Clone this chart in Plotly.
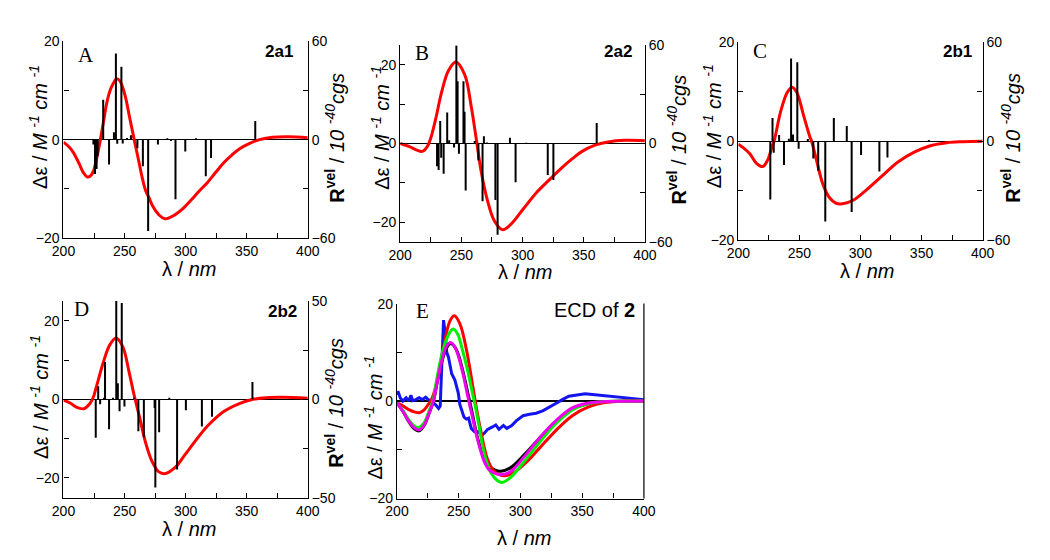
import plotly.graph_objects as go

W, H = 1050, 560

# ---------------- Panel A : 2a1 ----------------
A_curve_wl = [200, 205, 208.5, 213, 216, 219.5, 222, 224.5, 227, 230.2, 233, 235.2, 238, 240.5, 243.5, 246,
              248.5, 251, 253.9, 257.9, 261.9, 264.5, 267.3, 270, 273, 277.8, 283.2, 291.2, 298, 304.5, 311,
              317.9, 324.5, 331.2, 338, 344.5, 352, 360.5, 371.2, 384.5, 400]
A_curve_de = [-0.5, -1.6, -2.8, -5.0, -6.6, -7.6, -7.4, -6.4, -4.0, 0, 4.0, 7.2, 9.9, 11.3, 12.4, 12.0,
              10.6, 8.4, 4.8, 0, -4.7, -7.8, -10.4, -11.8, -13.5, -15.2, -16.1, -15.3, -14.0, -12.3, -10.5,
              -8.7, -6.7, -4.7, -3.1, -1.8, -0.8, 0, 0.5, 0.6, 0.4]
A_stick_wl = [224.5, 225.8, 227.1, 228.0, 232.5, 237.3, 241.3, 242.9, 244.0, 247.4, 248.5, 252.0, 255.2,
              260.5, 265.0, 269.3, 277.3, 285.0, 288.0, 291.7, 299.7, 308.5, 316.5, 320.8, 357.0]
A_stick_R = [-3.0, -21.0, -18.0, -10.0, 24.3, -15.2, 4.5, 52.6, -2.5, 44.5, -2.4, 1.0, 2.6,
             -5.3, -16.2, -55.7, -3.0, 0.8, -0.8, -36.4, -7.3, 0.8, -22.4, -11.2, 11.4]

# ---------------- Panel B : 2a2 ----------------
B_curve_wl = [200, 207.5, 213, 218.1, 222.1, 224.8, 228.8, 234.1, 239.4, 245.5, 252.7, 258, 262, 266, 271.4,
              276.7, 283.4, 290, 300.7, 311.3, 322, 332, 341, 348.6, 359.2, 369.9, 383.2, 400]
B_curve_de = [0, -0.8, -1.6, -2.0, -0.8, 1.2, 6.0, 13.4, 18.5, 20.7, 17.5, 9.5, 1.5, -6.8, -14.6,
              -19.5, -21.9, -20.7, -16.6, -12.5, -9.2, -6.2, -3.8, -2.0, -0.4, 0.4, 0.8, 0.7]
B_stick_wl = [230.1, 231.4, 232.7, 233.5, 235.5, 238.4, 240.0, 244.0, 245.9, 246.9, 248.0, 251.7, 252.6,
              253.5, 260.9, 263.9, 267.3, 268.4, 270.8, 277.8, 279.6, 289.7, 294.3, 303.0, 320.6, 325.2, 360.6]
B_stick_R = [-13.8, -16.2, 13.8, -8.7, -18.5, 18.9, 2.0, -2.4, 59.8, 38.0, -6.3, 38.0, 19.4,
             -28.6, 1.6, -10.3, -35.3, 4.5, 0.6, -34.4, -55.7, 3.5, -23.6, 0.5, -19.2, -22.2, 12.5]

# ---------------- Panel C : 2b1 ----------------
C_curve_wl = [200, 204, 209.4, 214.7, 220, 224, 228, 229.3, 234.7, 240, 244, 248, 253.3, 258.7, 260, 264,
              269.3, 274.7, 280, 285.3, 293.3, 304, 317.3, 330.7, 344, 357.3, 370.7, 384, 400]
C_curve_de = [-0.6, -1.3, -2.5, -4.4, -5.1, -3.8, -0.8, 0, 6.0, 9.8, 10.9, 9.8, 5.3, 0.8, 0, -3.8,
              -8.7, -11.4, -12.5, -12.6, -12.0, -10.0, -7.1, -4.2, -2.2, -0.9, -0.3, -0.1, 0]
C_stick_wl = [226.2, 228.0, 229.0, 233.4, 237.4, 241.4, 243.2, 244.8, 248.3, 249.4, 256.9, 261.4,
              265.4, 271.2, 278.2, 288.8, 292.8, 300.5, 315.5, 322.1, 356.0]
C_stick_R = [-35.3, 14.1, -7.0, 3.7, -14.3, 1.5, 50.0, 4.0, 47.8, -4.5, 1.4, -10.4,
             -17.8, -48.5, 14.1, 9.2, -42.8, -8.4, -18.3, -9.9, 0.7]

# ---------------- Panel D : 2b2 ----------------
D_curve_wl = [200, 205.8, 210, 216.5, 221.8, 224.5, 227.2, 232.5, 237.8, 243.1, 248.5, 253.8, 257.8,
              261.8, 267.2, 272.5, 277.8, 283.2, 291.2, 299.2, 307.2, 317.9, 331.2, 344.5, 355.2, 365.9,
              379.2, 400]
D_curve_de = [-0.2, -1.0, -1.9, -2.4, -1.0, 0.6, 3.5, 9.3, 13.8, 15.6, 13.4, 6.8, 1.1,
              -3.9, -11.0, -15.8, -18.4, -18.9, -17.4, -14.2, -10.9, -6.8, -3.1, -1.0, 0, 0.4,
              0.5, 0.3]
D_stick_wl = [226.4, 228.4, 230.0, 233.2, 234.0, 237.3, 240.5, 243.2, 244.5, 245.9, 247.7, 249.9, 257.9,
              261.3, 265.8, 274.6, 275.2, 278.3, 286.6, 293.0, 300.2, 313.3, 321.6, 354.7]
D_stick_R = [-19.6, 6.6, -2.5, 0.8, 19.0, -15.2, 0.8, 50.0, 8.2, -6.1, 49.0, -3.6, 0.8,
             -16.3, -19.3, -4.4, -44.8, -16.8, 0.8, -35.7, -5.6, -13.8, -8.8, 8.8]

# ---------------- Panel E : ECD of 2 ----------------
E_exp_wl = [200, 200.8, 202.6, 204.7, 207.4, 209.5, 211.3, 212.6, 215.3, 217.9, 220.5, 223.2, 225.3, 227.9,
            231.1, 233.7, 235, 236.4, 237.7, 239, 240.3, 241.7, 244.3, 246.9, 249.6, 250.9, 252.8, 254.3,
            256.2, 258, 260.2, 262.8, 266, 268.6, 270.7, 273.4, 277.3, 280, 282.6, 286.2, 288.9, 292.9,
            296.8, 302.1, 307.4, 312.7, 318, 323.3, 328.6, 333.9, 339.2, 347.1, 352.4, 360.3, 368.3,
            378.9, 389.4, 400]
E_exp_de = [1.3, 2.0, 0.7, 0, 0.7, 0, 1.2, 0.1, 0.3, 0.7, 0.3, 0.8, 0.3, 0,
            -0.7, -1.5, -1.0, 8.6, 16.6, 14.0, 10.0, 9.0, 5.6, 4.3, 1.7, -0.7, -2.0, -3.3,
            -3.7, -3.5, -5.6, -6.3, -6.3, -7.0, -6.6, -5.8, -5.3, -4.9, -5.8, -5.0, -5.6, -5.0,
            -4.0, -3.0, -2.7, -2.5, -2.0, -1.3, -0.5, 0.3, 1.0, 1.3, 1.5, 1.3, 1.1,
            0.8, 0.5, 0.3]

E_black_wl = [200, 205, 210, 214, 218, 222, 226, 229.5, 232.5, 236, 240, 243.5, 247, 250, 254, 257.5, 261,
              265.4, 270.7, 275, 279, 284, 291.8, 302.4, 315.6, 328.8, 342, 355.2, 370, 400]
E_black_de = [-0.3, -2.2, -4.4, -5.7, -6.1, -5.0, -2.5, 0, 3.8, 7.8, 10.8, 11.8, 11.0, 9.3, 5.5, 1.5, -2.5,
              -7.7, -11.7, -13.4, -14.1, -14.4, -13.7, -11.2, -7.6, -4.2, -1.6, -0.5, -0.1, 0]

E_magenta_wl = [200, 205, 210, 214, 218, 222, 226, 229.5, 232.5, 236, 240, 243.5, 247, 250, 254, 257.5, 261,
                265.4, 270.7, 275, 279, 284, 291.8, 302.4, 315.6, 328.8, 342, 355.2, 370, 400]
E_magenta_de = [-0.3, -2.2, -4.3, -5.5, -5.9, -4.9, -2.5, 0, 3.8, 8.0, 11.2, 12.0, 11.0, 9.0, 5.0, 0.8, -3.2,
                -8.0, -12.4, -14.2, -14.8, -15.1, -14.5, -11.6, -7.5, -4.0, -1.4, -0.4, -0.1, 0]

E_green_wl = [200, 205, 210, 214, 217.5, 222, 226, 229.5, 232.5, 237.7, 243, 245.5, 249, 253, 257, 261,
              263, 266, 270.7, 276, 281.3, 285.2, 291.8, 302.4, 315.6, 328.8, 342, 355.2, 368.4, 400]
E_green_de = [-0.3, -2.0, -4.0, -5.1, -5.4, -4.4, -2.0, 0.5, 4.9, 10.9, 14.2, 14.8, 13.8, 10.5, 6.5, 1.8,
              -0.5, -4.5, -10.7, -14.7, -16.3, -16.7, -15.7, -12.6, -8.4, -4.6, -1.8, -0.5, -0.1, 0]

E_red_wl = [200, 205, 210, 214, 218, 222, 225, 228.5, 233.8, 239.1, 243, 246.4, 250.9, 256.2, 261.5, 264.1,
            268.1, 273.4, 278.6, 283.9, 287.9, 294.5, 305, 315.6, 328.8, 342, 355.2, 368.4, 384, 400]
E_red_de = [-0.3, -1.0, -1.8, -2.2, -2.4, -1.8, -0.8, 0.6, 5.6, 12.9, 16.5, 17.5, 15.9, 10.6, 2.9, -1.1,
            -6.4, -12.0, -14.4, -15.2, -15.3, -14.7, -12.5, -9.6, -6.0, -3.0, -1.2, -0.3, 0, 0]

X_TICKS = [200, 250, 300, 350, 400]

FONT = "Liberation Sans, Arial, sans-serif"
SERIF = "Liberation Serif, Times New Roman, serif"


def sticks(wl, r):
    xs, ys = [], []
    for w, v in zip(wl, r):
        xs += [w, w, None]
        ys += [0, v, None]
    return xs, ys


fig = go.Figure()

panels = [
    dict(letter="A", label="<b>2a1</b>", px=(52.7, 302.7), py=(34.3, 236.7), yl=20, yr=60,
         curve=(A_curve_wl, A_curve_de), st=(A_stick_wl, A_stick_R),
         lt=(27, 122), rt=(330, 133), xt=(181, 269), lp=(76, 48), lab=(290, 45)),
    dict(letter="B", label="<b>2a2</b>", px=(397.3, 647.7), py=(38.3, 240.7), yl=25, yr=60,
         curve=(B_curve_wl, B_curve_de), st=(B_stick_wl, B_stick_R),
         lt=(377, 123), rt=(680, 135), xt=(525, 272), lp=(420, 46), lab=(637, 45)),
    dict(letter="C", label="<b>2b1</b>", px=(743.3, 993.3), py=(35, 239.3), yl=20, yr=60,
         curve=(C_curve_wl, C_curve_de), st=(C_stick_wl, C_stick_R),
         lt=(717, 122), rt=(1022, 134), xt=(875, 271), lp=(765, 44), lab=(985, 45)),
    dict(letter="D", label="<b>2b2</b>", px=(52.7, 302.7), py=(301.7, 504), yl=25, yr=50,
         curve=(D_curve_wl, D_curve_de), st=(D_stick_wl, D_stick_R),
         lt=(28, 400), rt=(330, 406), xt=(181, 536), lp=(71, 310), lab=(294, 312)),
]

axis_common = dict(showline=True, linecolor="black", linewidth=1.2, ticks="inside", ticklen=5,
                   tickwidth=1.2, tickcolor="black", showgrid=False,
                   tickfont=dict(family=FONT, size=14, color="black"))

annotations = []


def ann(x, y, text, size, family=FONT, angle=0, xanchor="center"):
    annotations.append(dict(x=x / W, y=1 - y / H, xref="paper", yref="paper", text=text,
                            showarrow=False, textangle=angle, xanchor=xanchor, yanchor="middle",
                            font=dict(family=family, size=size, color="black")))


LEFT_TITLE = "Δε / <i>M</i> <sup><i>-1</i></sup> <i>cm</i> <sup><i>-1</i></sup>"
RIGHT_TITLE = "<b>R</b><sup><b>vel</b></sup> / <i>10</i> <sup><i>-40</i></sup><i>cgs</i>"
X_TITLE = "λ / <i>nm</i>"

for i, p in enumerate(panels):
    xi = i + 1
    yl_i = 2 * i + 1
    yr_i = 2 * i + 2
    xname = "xaxis" if xi == 1 else f"xaxis{xi}"
    xref = "x" if xi == 1 else f"x{xi}"
    ylname = "yaxis" if yl_i == 1 else f"yaxis{yl_i}"
    ylref = "y" if yl_i == 1 else f"y{yl_i}"
    yrname = f"yaxis{yr_i}"
    yrref = f"y{yr_i}"
    xd = [p["px"][0] / W, p["px"][1] / W]
    yd = [1 - p["py"][1] / H, 1 - p["py"][0] / H]

    fig.layout[xname] = dict(axis_common, domain=xd, anchor=ylref, range=[200, 400],
                             tickvals=X_TICKS, zeroline=False,
                             minor=dict(dtick=25, tick0=200, ticks="inside", ticklen=5,
                                        tickwidth=1.2, tickcolor="black", showgrid=False))
    fig.layout[ylname] = dict(axis_common, domain=yd, anchor=xref, range=[-p["yl"], p["yl"]],
                              tickvals=[-20, 0, 20], zeroline=True, zerolinecolor="black",
                              zerolinewidth=1,
                              minor=dict(tickvals=[-10, 10], ticks="inside", ticklen=5,
                                         tickwidth=1.2, tickcolor="black", showgrid=False))
    yr = p["yr"]
    fig.layout[yrname] = dict(axis_common, overlaying=ylref, anchor=xref, side="right",
                              range=[-yr, yr], tickvals=[-yr, 0, yr], zeroline=False,
                              minor=dict(tickvals=[-yr / 2, yr / 2], ticks="inside", ticklen=5,
                                         tickwidth=1.2, tickcolor="black", showgrid=False))

    sx, sy = sticks(*p["st"])
    fig.add_trace(go.Scatter(x=sx, y=sy, mode="lines", line=dict(color="black", width=2),
                             xaxis=xref, yaxis=yrref, showlegend=False, hoverinfo="skip"))
    fig.add_trace(go.Scatter(x=p["curve"][0], y=p["curve"][1], mode="lines",
                             line=dict(color="#ff0000", width=3, shape="spline"),
                             xaxis=xref, yaxis=ylref, showlegend=False))

    ann(*p["lt"], LEFT_TITLE, 20, angle=-90)
    ann(*p["rt"], RIGHT_TITLE, 20, angle=-90)
    ann(*p["xt"], X_TITLE, 20)
    ann(*p["lp"], p["letter"], 21, family=SERIF)
    ann(p["lab"][0], p["lab"][1], p["label"], 17, xanchor="right")

# Panel E
E_px = (394, 646.7)
E_py = (304.3, 505)
fig.layout["xaxis5"] = dict(axis_common, domain=[E_px[0] / W, E_px[1] / W], anchor="y9", range=[200, 400],
                            tickvals=X_TICKS, zeroline=False,
                            minor=dict(dtick=25, tick0=200, ticks="inside", ticklen=5,
                                       tickwidth=1.2, tickcolor="black", showgrid=False))
fig.layout["yaxis9"] = dict(axis_common, domain=[1 - E_py[1] / H, 1 - E_py[0] / H], anchor="x5",
                            range=[-20, 20], tickvals=[-20, 0, 20], zeroline=True,
                            zerolinecolor="black", zerolinewidth=1.5,
                            minor=dict(tickvals=[-10, 10], ticks="inside", ticklen=5,
                                       tickwidth=1.2, tickcolor="black", showgrid=False))

for wl, de, col in [(E_exp_wl, E_exp_de, "#1414f0"),
                    (E_black_wl, E_black_de, "black"),
                    (E_red_wl, E_red_de, "#ff0000"),
                    (E_green_wl, E_green_de, "#00ee00"),
                    (E_magenta_wl, E_magenta_de, "#ee00ee")]:
    fig.add_trace(go.Scatter(x=wl, y=de, mode="lines",
                             line=dict(color=col, width=3, shape="linear" if col == "#1414f0" else "spline"),
                             xaxis="x5", yaxis="y9", showlegend=False))

shapes = [dict(type="line", xref="x5 domain", yref="y9 domain", x0=1, x1=1, y0=0, y1=1,
               line=dict(color="black", width=1.2))]

ann(370, 422, LEFT_TITLE, 20, angle=-90)
ann(524, 546, X_TITLE, 20)
ann(420, 312, "E", 21, family=SERIF)
ann(640, 311, "ECD of <b>2</b>", 20, xanchor="right")

fig.update_layout(width=W, height=H, margin=dict(l=0, r=0, t=0, b=0),
                  paper_bgcolor="white", plot_bgcolor="white", showlegend=False,
                  annotations=annotations, shapes=shapes)

fig.write_html("out.html", config={"displayModeBar": False},
               post_script="document.body.style.margin='0';")
